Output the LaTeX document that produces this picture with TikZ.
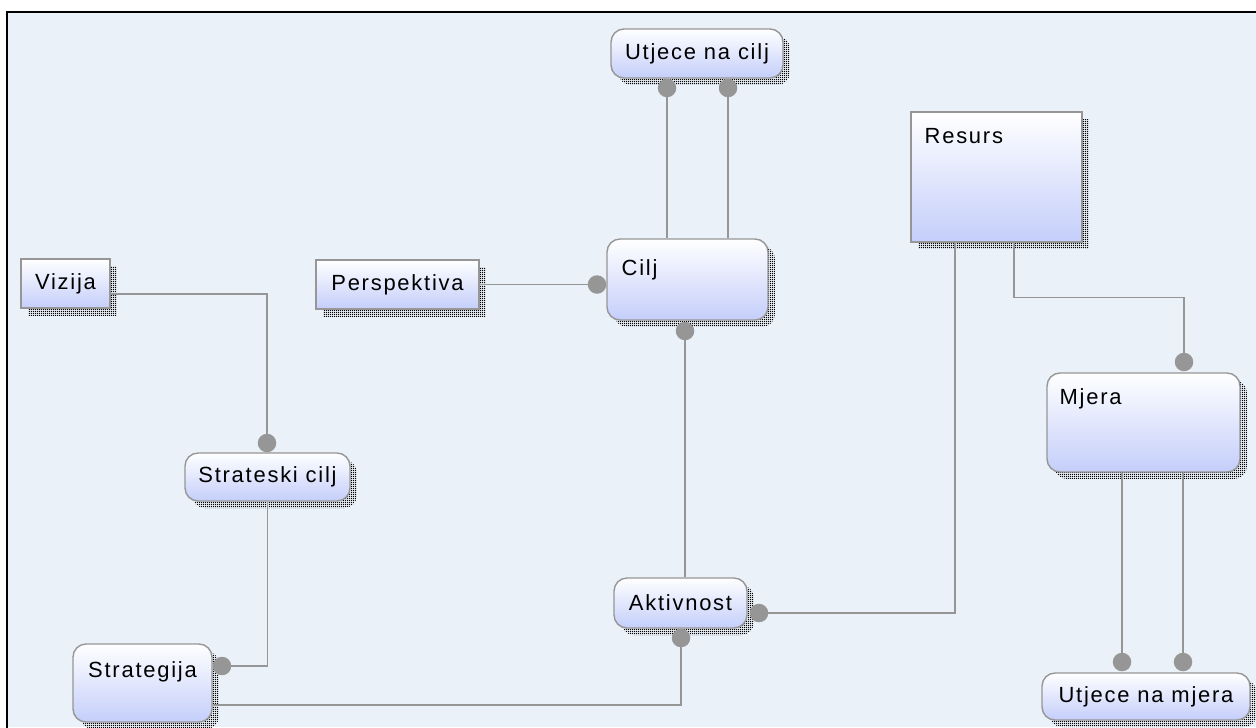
\documentclass[tikz,border=0pt]{standalone}
\usepackage{fontspec}
\setmainfont{Liberation Sans}[LetterSpace=8]
\usetikzlibrary{shadows,patterns,calc}
\definecolor{bg}{RGB}{234,241,248}
\definecolor{edgec}{RGB}{150,150,150}
\definecolor{boxbot}{RGB}{196,206,250}
\definecolor{linec}{RGB}{150,150,150}
\definecolor{dotc}{RGB}{150,150,150}
\pgfdeclarepatternformonly{densedots}{\pgfpointorigin}{\pgfpoint{1.3pt}{1.3pt}}{\pgfpoint{1.3pt}{1.3pt}}{\pgfpathrectangle{\pgfpointorigin}{\pgfpoint{0.75pt}{0.75pt}}\pgfusepath{fill}}
\tikzset{
  shad/.style={general shadow={shadow xshift=0.14cm, shadow yshift=-0.14cm, pattern=densedots, pattern color=black}},
  sqbox/.style={shad, draw=edgec, line width=0.8pt, top color=white, bottom color=boxbot, inner sep=0pt},
  rbox/.style={sqbox, rounded corners=0.26cm},
  conn/.style={draw=linec, line width=0.9pt},
  dotn/.style={circle, fill=dotc, inner sep=0pt, minimum size=0.37cm},
  tl/.style={anchor=north west, inner sep=0pt},
}
\begin{document}
\begin{tikzpicture}[x=0.02cm, y=-0.02cm, font=\fontsize{12.5}{15}\selectfont]
\useasboundingbox (0,0) rectangle (1256,727);
\fill[bg] (7,12) rectangle (1256,727);
\draw[black, line width=1.3pt] (7,740) -- (7,12) -- (1262,12);

% nodes
\node[rbox, minimum width=3.44cm, minimum height=0.98cm] (ucilj) at (697,53.5) {Utjece na cilj};
\node[rbox, minimum width=3.22cm, minimum height=1.62cm,
  label={[tl, xshift=0.3cm, yshift=-0.42cm]north west:Cilj}] (cilj) at (687.5,279.5) {};
\node[sqbox, minimum width=3.42cm, minimum height=2.6cm,
  label={[tl, xshift=0.28cm, yshift=-0.34cm]north west:Resurs}] (resurs) at (996.5,177) {};
\node[sqbox, minimum width=1.78cm, minimum height=0.98cm] (vizija) at (65.5,283.5) {Vizija};
\node[sqbox, minimum width=3.26cm, minimum height=0.98cm] (persp) at (397.5,284.5) {Perspektiva};
\node[rbox, minimum width=3.3cm, minimum height=0.96cm] (sc) at (267.5,477) {Strateski cilj};
\node[rbox, minimum width=2.78cm, minimum height=1.56cm,
  label={[anchor=north, inner sep=0pt, yshift=-0.36cm]north:Strategija}] (strategija) at (142.5,683) {};
\node[rbox, minimum width=2.66cm, minimum height=1.0cm] (aktiv) at (680.5,603) {Aktivnost};
\node[rbox, minimum width=3.86cm, minimum height=1.98cm,
  label={[tl, xshift=0.26cm, yshift=-0.32cm]north west:Mjera}] (mjera) at (1143.5,422.5) {};
\node[rbox, minimum width=4.16cm, minimum height=0.94cm] (umjera) at (1146,696.5) {Utjece na mjera};

% dot positions
\coordinate (d1) at (667,88);
\coordinate (d2) at (728,88);
\coordinate (d3) at (597,284.5);
\coordinate (d4) at (685,331);
\coordinate (d5) at (267,443);
\coordinate (d6) at (222,666);
\coordinate (d7) at (681,638);
\coordinate (d8) at (759,613);
\coordinate (d9) at (1184,362);
\coordinate (d10) at (1122,662);
\coordinate (d11) at (1183,662);

% connectors
\draw[conn] (d1) -- (d1 |- cilj.north);
\draw[conn] (d2) -- (d2 |- cilj.north);
\draw[conn] (persp.east) -- (d3);
\draw[conn] (d4) -- (d4 |- aktiv.north);
\draw[conn] ([yshift=-0.21cm]vizija.east) -| (d5);
\draw[conn] (sc.south) |- (d6);
\draw[conn] ([yshift=-0.44cm]strategija.east) -| (d7);
\draw[conn] ([xshift=-0.83cm]resurs.south) |- (d8);
\draw[conn] ([xshift=0.35cm]resurs.south) -- ++(0,55) -| (d9);
\draw[conn] (d10 |- mjera.south) -- (d10);
\draw[conn] (d11 |- mjera.south) -- (d11);

% dots
\foreach \d in {d1,d2,d3,d4,d5,d6,d7,d8,d9,d10,d11}
  \node[dotn] at (\d) {};
\end{tikzpicture}
\end{document}
